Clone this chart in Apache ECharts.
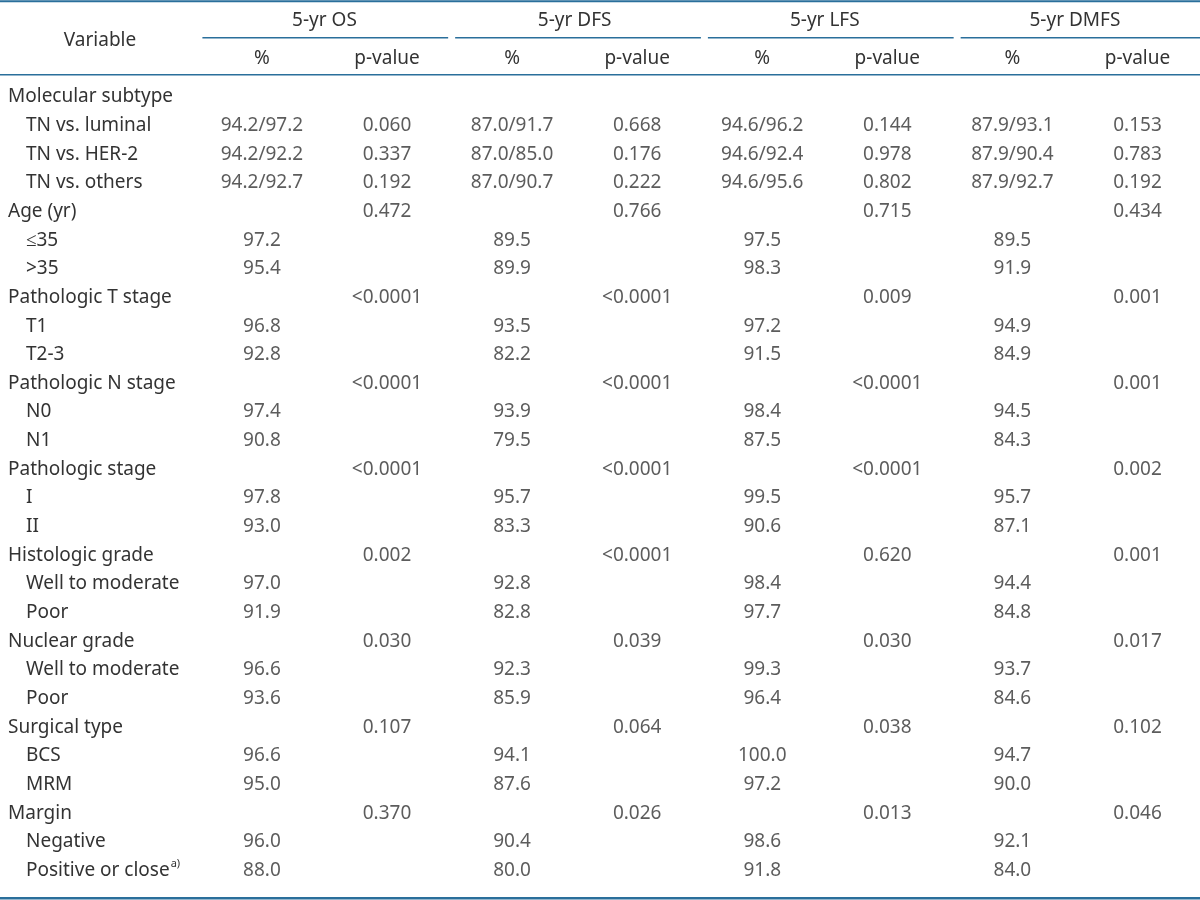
<!DOCTYPE html>
<html>
<head>
<meta charset="utf-8">
<script src="https://cdn.jsdelivr.net/npm/echarts@6/dist/echarts.min.js"></script>
<style>html,body{margin:0;padding:0;background:#fff;}#main{width:1200px;height:900px;}</style>
</head>
<body>
<div id="main"></div>
<script>
// ---- data ----
const groupHeaders = ['5-yr OS', '5-yr DFS', '5-yr LFS', '5-yr DMFS'];
const subHeaders = ['%', 'p-value', '%', 'p-value', '%', 'p-value', '%', 'p-value'];
const variableHeader = 'Variable';
const rowLabels = [
  'Molecular subtype', 'TN vs. luminal', 'TN vs. HER-2', 'TN vs. others',
  'Age (yr)', '\u226435', '>35',
  'Pathologic T stage', 'T1', 'T2-3',
  'Pathologic N stage', 'N0', 'N1',
  'Pathologic stage', 'I', 'II',
  'Histologic grade', 'Well to moderate', 'Poor',
  'Nuclear grade', 'Well to moderate', 'Poor',
  'Surgical type', 'BCS', 'MRM',
  'Margin', 'Negative', 'Positive or close'
];
const rowIsGroup = [1,0,0,0, 1,0,0, 1,0,0, 1,0,0, 1,0,0, 1,0,0, 1,0,0, 1,0,0, 1,0,0];
const rowNotes = ['','','','', '','','', '','','', '','','', '','','', '','','', '','','', '','','', '','','a)'];

const osPct   = ['', '94.2/97.2', '94.2/92.2', '94.2/92.7', '', '97.2', '95.4', '', '96.8', '92.8', '', '97.4', '90.8', '', '97.8', '93.0', '', '97.0', '91.9', '', '96.6', '93.6', '', '96.6', '95.0', '', '96.0', '88.0'];
const osP     = ['', '0.060', '0.337', '0.192', '0.472', '', '', '<0.0001', '', '', '<0.0001', '', '', '<0.0001', '', '', '0.002', '', '', '0.030', '', '', '0.107', '', '', '0.370', '', ''];
const dfsPct  = ['', '87.0/91.7', '87.0/85.0', '87.0/90.7', '', '89.5', '89.9', '', '93.5', '82.2', '', '93.9', '79.5', '', '95.7', '83.3', '', '92.8', '82.8', '', '92.3', '85.9', '', '94.1', '87.6', '', '90.4', '80.0'];
const dfsP    = ['', '0.668', '0.176', '0.222', '0.766', '', '', '<0.0001', '', '', '<0.0001', '', '', '<0.0001', '', '', '<0.0001', '', '', '0.039', '', '', '0.064', '', '', '0.026', '', ''];
const lfsPct  = ['', '94.6/96.2', '94.6/92.4', '94.6/95.6', '', '97.5', '98.3', '', '97.2', '91.5', '', '98.4', '87.5', '', '99.5', '90.6', '', '98.4', '97.7', '', '99.3', '96.4', '', '100.0', '97.2', '', '98.6', '91.8'];
const lfsP    = ['', '0.144', '0.978', '0.802', '0.715', '', '', '0.009', '', '', '<0.0001', '', '', '<0.0001', '', '', '0.620', '', '', '0.030', '', '', '0.038', '', '', '0.013', '', ''];
const dmfsPct = ['', '87.9/93.1', '87.9/90.4', '87.9/92.7', '', '89.5', '91.9', '', '94.9', '84.9', '', '94.5', '84.3', '', '95.7', '87.1', '', '94.4', '84.8', '', '93.7', '84.6', '', '94.7', '90.0', '', '92.1', '84.0'];
const dmfsP   = ['', '0.153', '0.783', '0.192', '0.434', '', '', '0.001', '', '', '0.001', '', '', '0.002', '', '', '0.001', '', '', '0.017', '', '', '0.102', '', '', '0.046', '', ''];

const columns = [osPct, osP, dfsPct, dfsP, lfsPct, lfsP, dmfsPct, dmfsP];

// ---- layout / style ----
const FONT = 'Noto Sans';
const TXT = '#333333';
const RULE = '#2a6f9b';
const FS = 19;
const gridLeft = 199.4, gridWidth = 1011, gridTop = 82.5, rowH = 28.66;
const gridHeight = rowH * rowLabels.length;
const colW = gridWidth / subHeaders.length;

const series = columns.map((col, ci) => ({
  type: 'scatter',
  xAxisIndex: 0,
  yAxisIndex: 0,
  symbolSize: 1,
  itemStyle: { color: 'rgba(0,0,0,0)' },
  silent: true,
  label: {
    show: true,
    position: 'inside',
    formatter: p => p.value[2],
    color: TXT,
    fontFamily: FONT,
    fontSize: FS,
    align: 'center',
    verticalAlign: 'middle'
  },
  data: col.map((v, ri) => [ci, ri, v]).filter(d => d[2] !== '')
}));

const graphics = [];
const rule = (x1, x2, y, w) => ({
  type: 'line', silent: true,
  shape: { x1: x1, y1: y, x2: x2, y2: y },
  style: { stroke: RULE, lineWidth: w }
});
graphics.push(rule(0, 1200, 1.2, 2));
groupHeaders.forEach((g, gi) => {
  const a = gridLeft + gi * 2 * colW + 3;
  const b = Math.min(1200, gridLeft + (gi + 1) * 2 * colW - 4);
  graphics.push(rule(a, b, 37.8, 1.6));
});
graphics.push(rule(0, 1200, 74.8, 1.6));
graphics.push(rule(0, 1200, 898.3, 2.6));
graphics.push({
  type: 'text', silent: true,
  x: 100, y: 40.5,
  style: { text: variableHeader, fill: TXT, font: FS + 'px "' + FONT + '"', align: 'center', verticalAlign: 'middle' }
});

const option = {
  animation: false,
  backgroundColor: '#ffffff',
  grid: { left: gridLeft, top: gridTop, width: gridWidth, height: gridHeight, containLabel: false },
  xAxis: [
    {
      type: 'category', data: subHeaders, position: 'top',
      axisLine: { show: false }, axisTick: { show: false }, splitLine: { show: false },
      axisLabel: { margin: gridTop - 58.5, verticalAlign: 'middle', color: TXT, fontFamily: FONT, fontSize: FS, interval: 0 }
    },
    {
      type: 'category', data: groupHeaders, position: 'top', gridIndex: 0,
      axisLine: { show: false }, axisTick: { show: false }, splitLine: { show: false },
      axisLabel: { margin: gridTop - 21, verticalAlign: 'middle', color: TXT, fontFamily: FONT, fontSize: FS, interval: 0 }
    }
  ],
  yAxis: {
    type: 'category', data: rowLabels, inverse: true,
    axisLine: { show: false }, axisTick: { show: false }, splitLine: { show: false },
    axisLabel: {
      interval: 0,
      align: 'left',
      margin: gridLeft - 8,
      formatter: (v, i) => {
        const tag = rowIsGroup[i] ? 'g' : 's';
        return '{' + tag + '|' + v + '}' + (rowNotes[i] ? '{sup|' + rowNotes[i] + '}' : '');
      },
      rich: {
        g: { color: TXT, fontFamily: FONT, fontSize: FS, lineHeight: 24 },
        s: { color: TXT, fontFamily: FONT, fontSize: FS, lineHeight: 24, padding: [0, 0, 0, 18] },
        sup: { color: TXT, fontFamily: FONT, fontSize: 11, lineHeight: 24, verticalAlign: 'top', padding: [0, 0, 10, 1] }
      }
    }
  },
  graphic: graphics,
  series: series
};

const chart = echarts.init(document.getElementById('main'), null, { renderer: 'canvas' });
chart.setOption(option);
</script>
</body>
</html>
